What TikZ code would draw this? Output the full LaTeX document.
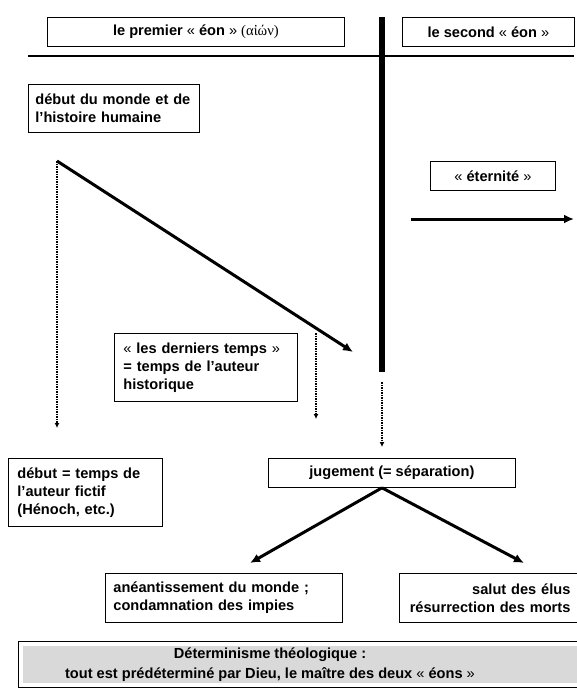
\documentclass[tikz,border=0pt]{standalone}
\usepackage{fontspec}
\setmainfont{Liberation Sans}
\newfontfamily\greekfont{Liberation Serif}
\usetikzlibrary{arrows.meta}
\newcommand\gou{{\mdseries«}}
\newcommand\gfe{{\mdseries»}}

\begin{document}
\begin{tikzpicture}[x=1pt,y=-1pt,
  box/.style={draw,line width=0.8pt,anchor=north west,inner xsep=8pt,inner ysep=0pt},
  leftbox/.style={box,align=left,text width=#1},
  fleche/.style={line width=3pt,-{Latex[length=10pt,width=9pt]}},
  pointille/.style={line width=2pt,dash pattern=on 1.5pt off 1pt,-{Latex[length=5pt,width=5pt]}}]
\tikzstyle{every node}=[font=\fontsize{14.6}{18}\selectfont\bfseries]
\useasboundingbox (0,0) rectangle (577,689);
\clip (0,0) rectangle (577,689);

% les deux eons
\node[box,minimum width=297pt,minimum height=29pt] (premier) at (47,17) {le premier \gou~éon~\gfe{} {\greekfont\mdseries(αἰών)}};
\node[box,minimum width=172pt,minimum height=29pt] (second) at (402,17) {le second \gou~éon~\gfe};
\coordinate (hg) at (28,56);
\coordinate (hd) at (574,56);
\coordinate (vh) at (382,17);
\coordinate (vb) at (382,372);
\draw[line width=2.5pt] (hg) -- (hd);
\draw[line width=6pt] (vh) -- (vb);

% premier eon
\node[leftbox=161pt,inner xsep=5pt,minimum height=48pt] (monde) at (28,84) {\hspace*{2pt}début du monde et de\\\hspace*{2pt}l’histoire humaine};
\coordinate (depart) at (57,161);
\coordinate (fin) at (353,352);
\coordinate (d1) at (57,428);
\draw[fleche] (depart) -- (fin);
\draw[pointille] (depart) -- (d1);

\node[leftbox=165pt,inner xsep=9pt,minimum height=68pt] (derniers) at (114,333) {\gou~les derniers temps~\gfe\\= temps de l’auteur\\historique};
\coordinate (p1) at (316,333);
\coordinate (p2) at (316,419);
\draw[pointille] (p1) -- (p2);

\node[leftbox=136pt,inner xsep=9pt,minimum height=68pt] (debut) at (8,458) {début = temps de\\l’auteur fictif\\(Hénoch, etc.)};

% second eon
\node[box,minimum width=125pt,minimum height=29pt] (eternite) at (430,161) {\gou~éternité~\gfe};
\coordinate (e1) at (411,219);
\coordinate (e2) at (574,219);
\draw[fleche] (e1) -- (e2);

% jugement
\coordinate (j1) at (382,382);
\coordinate (j2) at (382,447);
\draw[pointille] (j1) -- (j2);
\node[box,minimum width=247pt,minimum height=29pt] (jugement) at (268,458) {jugement (= séparation)};
\coordinate (split) at (jugement.south -| vb);
\coordinate (g) at (250,563);
\coordinate (dr) at (524,563);
\draw[fleche] (split) -- (g);
\draw[fleche] (split) -- (dr);

\node[leftbox=221pt,minimum height=49pt] (aneant) at (105,573) {anéantissement du monde ;\\condamnation des impies};
\node[box,align=right,text width=163pt,minimum height=49pt] (salut) at (399,573) {salut des élus\\résurrection des morts};

% determinisme
\draw[line width=0.8pt] (18,641) rectangle (600,687);
\fill[gray!30] (23,646) rectangle (600,683);
\node[align=center,font=\fontsize{14.6}{20}\selectfont\bfseries] (determinisme) at (270,665) {Déterminisme théologique :\\tout est prédéterminé par Dieu, le maître des deux \gou~éons~\gfe};
\end{tikzpicture}
\end{document}
